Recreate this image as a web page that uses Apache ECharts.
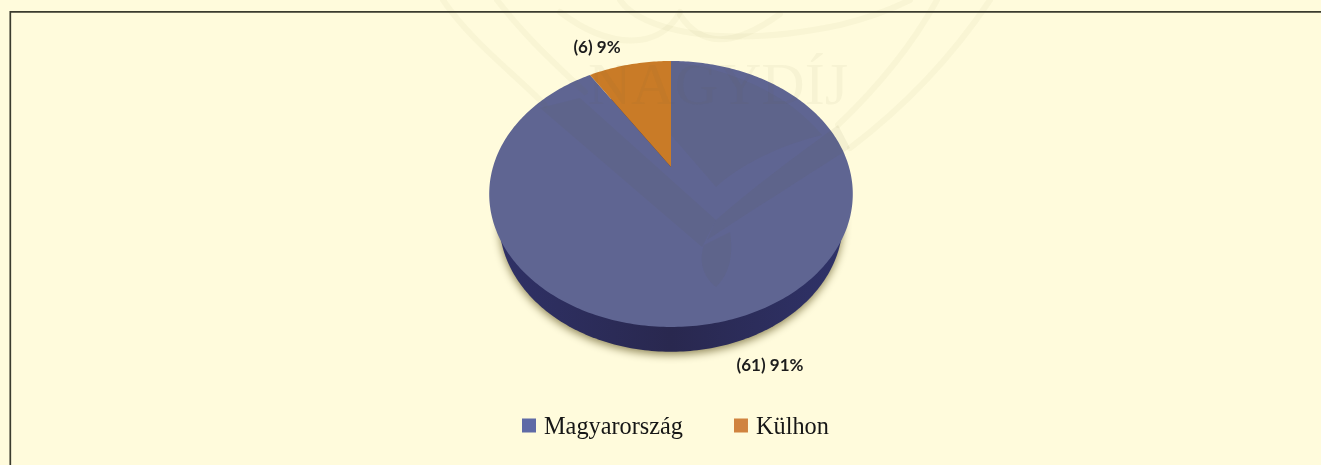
<!DOCTYPE html>
<html>
<head>
<meta charset="utf-8">
<style>html,body{margin:0;padding:0;background:#fffbdc}#c{width:1321px;height:465px}</style>
<script src="https://cdn.jsdelivr.net/npm/echarts@6/dist/echarts.min.js"></script>
</head>
<body>
<div id="c"></div>
<script>
const categories = ['Magyarország', 'Külhon'];
const counts = [61, 6];
const sliceColors = ['#5f6592', '#c97b27'];
const legendColors = ['#5f6aa6', '#d0833f'];

// layout of the tilted pie (perspective disc)
const apex = { x: 671, y: 167 };
const tilt = { a: 178, b: 127.5, k: 0.203 };
const labelAnchors = [{ x: 770, y: 366 }, { x: 597, y: 48 }];
const total = counts.reduce((s, v) => s + v, 0);

function project(theta) {
  const u = Math.sin(theta), v = Math.cos(theta), w = 1 + tilt.k * v;
  return [apex.x + tilt.a * u / w, apex.y - tilt.b * v / w];
}
function lowerRim(p) {
  return [apex.x + (p[0] - apex.x) * 0.945, apex.y + (p[1] - apex.y) * 0.98 + 28];
}
function slicePoints(from, to, map) {
  const pts = [map([apex.x, apex.y])];
  const n = Math.max(8, Math.ceil((to - from) * 60));
  for (let i = 0; i <= n; i++) pts.push(map(project(from + (to - from) * i / n)));
  return pts;
}
const same = p => p;

function makeRender(idx) {
  return function (params, api) {
    const before = counts.slice(0, idx).reduce((s, v) => s + v, 0);
    const from = before / total * Math.PI * 2;
    const to = (before + api.value(0)) / total * Math.PI * 2;
    const pct = Math.round(api.value(0) / total * 100);
    const children = [];
    if (idx === 0) {
      children.push({
        type: 'polygon', z2: 1, silent: true,
        shape: { points: slicePoints(0, Math.PI * 2, lowerRim).slice(1) },
        style: {
          fill: new echarts.graphic.LinearGradient(0, 0, 1, 0, [
            { offset: 0, color: '#2f3166' }, { offset: 0.5, color: '#29284f' }, { offset: 1, color: '#2f3268' }
          ]),
          shadowBlur: 9, shadowColor: 'rgba(110,100,50,0.75)', shadowOffsetY: 3
        }
      });
    }
    children.push({
      type: 'polygon', z2: 5,
      shape: { points: slicePoints(from, to, same) },
      style: { fill: sliceColors[idx] }
    });
    children.push({
      type: 'text', z2: 8, silent: true,
      x: labelAnchors[idx].x, y: labelAnchors[idx].y,
      style: {
        text: '(' + api.value(0) + ') ' + pct + '%',
        align: 'center', verticalAlign: 'middle',
        font: 'bold 17px Lato, "Open Sans", sans-serif', fill: '#1c1c1c'
      }
    });
    return { type: 'group', children };
  };
}

// faint background emblem, drawn over the whole picture
const emblemLines = [
  'M 443 0 C 470 40 510 70 545 105',
  'M 497 0 C 520 30 545 55 585 92',
  'M 990 0 C 950 60 900 110 850 148',
  'M 937 0 C 915 40 880 85 838 125',
  'M 560 12 C 610 50 660 50 680 12',
  'M 780 14 C 730 50 700 45 680 15',
  'M 620 0 C 640 30 720 50 840 25 C 880 15 900 5 910 0'
];
const emblemShapes = [
  'M 671 135 L 716 187 C 740 165 780 145 822 135 C 790 95 730 68 671 62 Z',
  'M 540 108 L 702 247 L 716 220 L 580 98 Z',
  'M 716 220 C 750 190 790 160 838 125 L 850 148 C 800 180 745 215 707 240 Z',
  'M 704 245 C 698 262 704 278 716 287 C 728 275 734 258 730 232 Z'
];

const emblemSeries = {
  type: 'custom', coordinateSystem: 'none', silent: true, z: 40, tooltip: { show: false },
  data: [[0]],
  renderItem: function () {
    return {
      type: 'group',
      children: emblemLines.map(d => ({
        type: 'path', silent: true, z2: 20, shape: { pathData: d },
        style: { stroke: 'rgba(105,105,50,0.045)', fill: 'none', lineWidth: 6, lineCap: 'round' }
      })).concat(emblemShapes.map(d => ({
        type: 'path', silent: true, z2: 20, shape: { pathData: d },
        style: { fill: 'rgba(90,90,50,0.065)' }
      }))).concat([{
        type: 'text', silent: true, z2: 21, x: 718, y: 88,
        style: { text: 'NAGYDÍJ', align: 'center', verticalAlign: 'middle', font: '60px "Liberation Serif", serif', fill: 'rgba(100,100,50,0.05)' }
      }])
    };
  }
};

const option = {
  backgroundColor: '#fffbdc',
  animation: false,
  legend: {
    data: categories, left: 522, top: 416, padding: 0, icon: 'rect', itemWidth: 14, itemHeight: 14, itemGap: 51,
    selectedMode: false,
    formatter: '{a|{name}}',
    textStyle: {
      fontFamily: '"Liberation Serif", serif', fontSize: 24.3, color: '#161616',
      rich: { a: { fontFamily: '"Liberation Serif", serif', fontSize: 24.3, color: '#161616', padding: [5, 0, 0, 3] } }
    }
  },
  graphic: [
    { type: 'polyline', silent: true, z: 60,
      shape: { points: [[10.3, 465], [10.3, 11.8], [1321, 11.8]] },
      style: { stroke: '#3b3b2e', lineWidth: 1.7, fill: 'none' } }
  ],
  series: categories.map((name, i) => ({
    type: 'custom', name, coordinateSystem: 'none',
    itemStyle: { color: legendColors[i] },
    renderItem: makeRender(i),
    data: [[counts[i]]]
  })).concat([emblemSeries])
};
const chart = echarts.init(document.getElementById('c'), null, { renderer: 'canvas' });
chart.setOption(option);
</script>
</body>
</html>
